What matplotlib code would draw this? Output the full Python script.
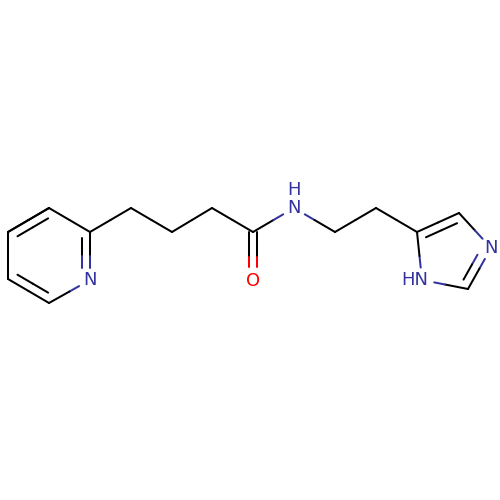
import numpy as np
import matplotlib
matplotlib.use("Agg")
import matplotlib.pyplot as plt

BLUE = "#33339f"
RED = "#ff0000"
BLACK = "#000000"

# atom positions (pixels)
atom_names = ["C1", "C2", "C3", "N1", "C4", "C5", "C6", "C7", "C8", "C9", "O1", "N2",
              "C10", "C11", "C12", "C13", "N3", "C14", "N4"]
atom_x = [8, 49, 90, 90, 49, 8, 131, 172, 212, 253, 253, 294, 335, 376, 417, 459, 491, 468, 422]
atom_y = [232, 208, 232, 280, 303, 279, 208, 232, 208, 232, 281, 208, 232, 208, 232, 213, 248, 289, 280]
atom_colors = {"N1": BLUE, "N2": BLUE, "N3": BLUE, "N4": BLUE, "O1": RED}

single_bonds = [("C1", "C2"), ("C3", "C2"), ("N1", "C4"), ("C5", "C1"), ("C3", "C6"),
                ("C6", "C7"), ("C7", "C8"), ("C8", "C9"), ("C9", "N2"), ("N2", "C10"),
                ("C10", "C11"), ("C11", "C12"), ("C13", "N3"), ("C14", "N4"), ("N4", "C12")]
# second line of a double bond: offset side given by a point inside the ring
ring_doubles = [("C1", "C2", (49, 255)), ("C3", "N1", (49, 255)), ("C4", "C5", (49, 255)),
                ("C12", "C13", (450, 255)), ("N3", "C14", (450, 255))]

pos = {n: np.array([x, y], dtype=float) for n, x, y in zip(atom_names, atom_x, atom_y)}


def color_of(name):
    return atom_colors.get(name, BLACK)


def trim(name):
    return 12.5 if name in atom_colors else 0


def draw_bond(ax, a, b, p=None, q=None, start=None, end=None):
    p = pos[a] if p is None else p
    q = pos[b] if q is None else q
    mid = (p + q) / 2
    u = (q - p) / np.linalg.norm(q - p)
    p0 = p + u * (trim(a) if start is None else start)
    q0 = q - u * (trim(b) if end is None else end)
    ax.plot([p0[0], mid[0]], [p0[1], mid[1]], color=color_of(a), lw=1.45, solid_capstyle="round")
    ax.plot([mid[0], q0[0]], [mid[1], q0[1]], color=color_of(b), lw=1.45, solid_capstyle="round")


fig = plt.figure(figsize=(5, 5), dpi=100)
ax = fig.add_axes([0, 0, 1, 1])
ax.set_xlim(0, 500)
ax.set_ylim(500, 0)
ax.axis("off")

for a, b in single_bonds:
    draw_bond(ax, a, b)

for a, b, inside in ring_doubles:
    draw_bond(ax, a, b)
    p, q = pos[a], pos[b]
    u = (q - p) / np.linalg.norm(q - p)
    n = np.array([-u[1], u[0]])
    if np.dot(n, np.array(inside) - p) < 0:
        n = -n
    draw_bond(ax, a, b, p + n * 8.5, q + n * 8.5, start=max(trim(a), 6), end=max(trim(b), 6))

# carbonyl, two lines either side of the axis
shift = np.array([4.2, 0])
draw_bond(ax, "C9", "O1", pos["C9"] - shift, pos["O1"] - shift, start=0, end=14)
draw_bond(ax, "C9", "O1", pos["C9"] + shift, pos["O1"] + shift, start=0, end=14)

label_args = dict(ha="center", va="center", fontsize=13, family="DejaVu Sans")
ax.text(pos["N1"][0], pos["N1"][1], "N", color=BLUE, **label_args)
ax.text(pos["O1"][0], pos["O1"][1], "O", color=RED, **label_args)
ax.text(pos["N2"][0], pos["N2"][1], "N", color=BLUE, **label_args)
ax.text(pos["N2"][0], pos["N2"][1] - 18, "H", color=BLUE, **label_args)
ax.text(pos["N3"][0], pos["N3"][1], "N", color=BLUE, **label_args)
ax.text(428, pos["N4"][1], "HN", color=BLUE, ha="right", va="center", fontsize=13, family="DejaVu Sans")

fig.savefig("out.png", dpi=100, facecolor="white")
